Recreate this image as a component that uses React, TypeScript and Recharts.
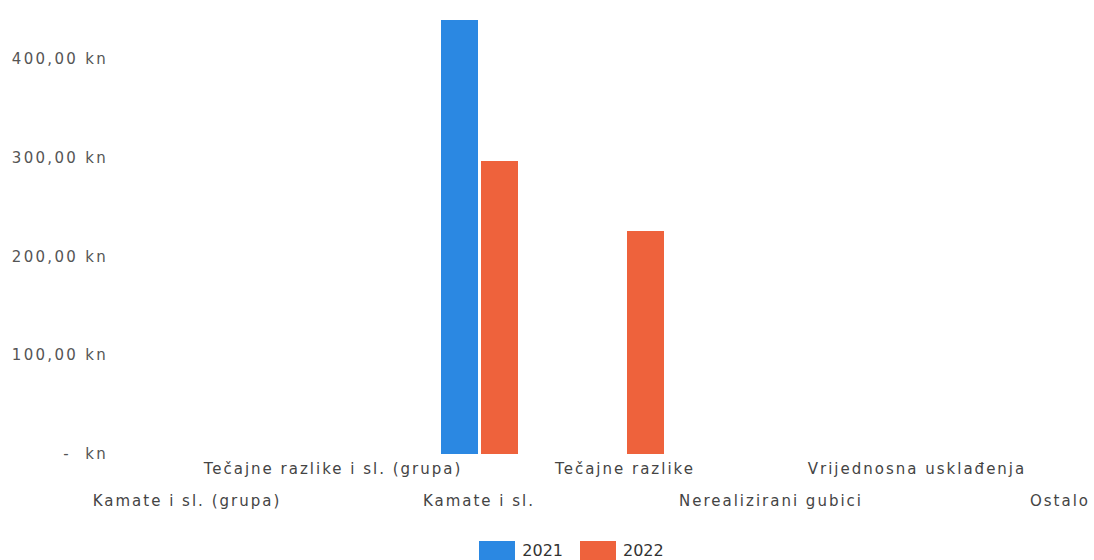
import { BarChart, Bar, XAxis, YAxis, Legend } from 'recharts';

const categories = [
    'Kamate i sl. (grupa)',
    'Tečajne razlike i sl. (grupa)',
    'Kamate i sl.',
    'Tečajne razlike',
    'Nerealizirani gubici',
    'Vrijednosna usklađenja',
    'Ostalo',
];
const values2021 = [0, 0, 440, 0, 0, 0, 0];
const values2022 = [0, 0, 297, 226, 0, 0, 0];
const yTicks = [0, 100, 200, 300, 400];

const BLUE = '#2B88E2';
const ORANGE = '#EE623C';
const FONT = '"DejaVu Sans", Verdana, sans-serif';

const data = categories.map((name, i) => ({
    name,
    y2021: values2021[i],
    y2022: values2022[i],
}));

const formatKn = (v: number) => (v === 0 ? '-\u00a0\u00a0kn' : `${v},00 kn`);

const StaggeredTick = (props: any) => {
    const { x, y, payload, index } = props;
    const upper = index % 2 === 1;
    const last = index === categories.length - 1;
    return (
        <text
            x={last ? 1090 : x}
            y={y + (upper ? 12 : 44)}
            textAnchor={last ? 'end' : 'middle'}
            fill="#444"
            fontSize={15}
            fontFamily={FONT}
            letterSpacing={2}
        >
            {payload.value}
        </text>
    );
};

const YTick = (props: any) => {
    const { x, y, payload } = props;
    return (
        <text x={x + 2} y={y} dy={5} textAnchor="end" fill="#555" fontSize={15} fontFamily={FONT} letterSpacing={2.3}>
            {formatKn(payload.value)}
        </text>
    );
};

const LegendContent = () => (
    <div style={{ display: 'flex', justifyContent: 'center', fontFamily: FONT, fontSize: 16, color: '#333', marginTop: -4 }}>
        {[
            { label: '2021', color: BLUE },
            { label: '2022', color: ORANGE },
        ].map((item) => (
            <div key={item.label} style={{ display: 'flex', alignItems: 'center', margin: '0 5px 0 12px' }}>
                <span style={{ display: 'inline-block', width: 36, height: 19, background: item.color, marginRight: 7 }} />
                {item.label}
            </div>
        ))}
    </div>
);

export default function App() {
    return (
        <div style={{ position: 'absolute', left: 0, top: 0, width: 1094, height: 560, overflow: 'hidden', background: '#fff' }}>
            <BarChart
                width={1140}
                height={560}
                data={data}
                margin={{ top: 20, right: 4, left: 0, bottom: 0 }}
                barGap={3}
                barSize={37}
            >
                <XAxis
                    dataKey="name"
                    axisLine={false}
                    tickLine={false}
                    interval={0}
                    height={91}
                    tick={<StaggeredTick />}
                />
                <YAxis
                    width={114}
                    domain={[0, 440]}
                    ticks={yTicks}
                    axisLine={false}
                    tickLine={false}
                    tick={<YTick />}
                />
                <Legend verticalAlign="bottom" content={<LegendContent />} />
                <Bar dataKey="y2021" name="2021" fill={BLUE} isAnimationActive={false} />
                <Bar dataKey="y2022" name="2022" fill={ORANGE} isAnimationActive={false} />
            </BarChart>
        </div>
    );
}
